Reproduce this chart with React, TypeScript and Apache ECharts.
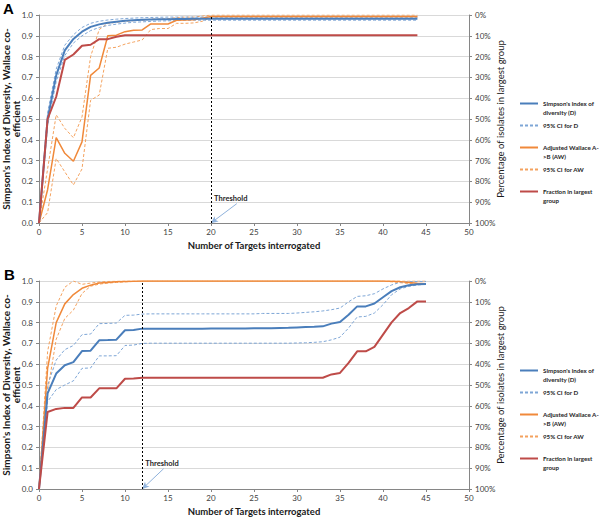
import React, { useEffect, useRef } from "react";
import * as echarts from "echarts";

// ---------- Data ----------
const targetsA = [0, 1, 2, 3, 4, 5, 6, 7, 8, 9, 10, 11, 12, 13, 14, 15, 16, 17, 18, 19, 20, 21, 22, 23, 24, 25, 26, 27, 28, 29, 30, 31, 32, 33, 34, 35, 36, 37, 38, 39, 40, 41, 42, 43, 44];
const targetsB = [0, 1, 2, 3, 4, 5, 6, 7, 8, 9, 10, 11, 12, 13, 14, 15, 16, 17, 18, 19, 20, 21, 22, 23, 24, 25, 26, 27, 28, 29, 30, 31, 32, 33, 34, 35, 36, 37, 38, 39, 40, 41, 42, 43, 44, 45];

// Panel A
const simpsonA = [0, 0.5, 0.71, 0.83, 0.885, 0.92, 0.943, 0.955, 0.963, 0.968, 0.972, 0.975, 0.977, 0.978, 0.979, 0.98, 0.981, 0.981, 0.982, 0.982, 0.982, 0.982, 0.982, 0.982, 0.982, 0.982, 0.982, 0.982, 0.982, 0.982, 0.982, 0.982, 0.982, 0.982, 0.982, 0.982, 0.982, 0.982, 0.982, 0.982, 0.982, 0.982, 0.982, 0.982, 0.982];
const simpsonUpperA = [0, 0.53, 0.74, 0.855, 0.905, 0.94, 0.96, 0.97, 0.976, 0.98, 0.983, 0.985, 0.987, 0.988, 0.989, 0.99, 0.99, 0.99, 0.99, 0.99, 0.99, 0.99, 0.99, 0.99, 0.99, 0.99, 0.99, 0.99, 0.99, 0.99, 0.99, 0.99, 0.99, 0.99, 0.99, 0.99, 0.99, 0.99, 0.99, 0.99, 0.99, 0.99, 0.99, 0.99, 0.99];
const simpsonLowerA = [0, 0.47, 0.68, 0.805, 0.865, 0.9, 0.925, 0.94, 0.95, 0.956, 0.961, 0.965, 0.967, 0.969, 0.971, 0.972, 0.973, 0.974, 0.975, 0.975, 0.975, 0.975, 0.975, 0.975, 0.975, 0.975, 0.975, 0.975, 0.975, 0.975, 0.975, 0.975, 0.975, 0.975, 0.975, 0.975, 0.975, 0.975, 0.975, 0.975, 0.975, 0.975, 0.975, 0.975, 0.975];
const wallaceA = [0, 0.16, 0.41, 0.335, 0.297, 0.39, 0.71, 0.745, 0.9, 0.903, 0.92, 0.927, 0.928, 0.957, 0.957, 0.957, 0.975, 0.976, 0.977, 0.985, 0.993, 0.993, 0.993, 0.993, 0.993, 0.993, 0.993, 0.993, 0.993, 0.993, 0.993, 0.993, 0.993, 0.993, 0.993, 0.993, 0.993, 0.993, 0.993, 0.993, 0.993, 0.993, 0.993, 0.993, 0.993];
const wallaceUpperA = [0, 0.26, 0.52, 0.455, 0.41, 0.51, 0.8, 0.93, 0.96, 0.965, 0.97, 0.973, 0.975, 0.98, 0.98, 0.982, 0.988, 0.99, 0.99, 0.995, 1, 1, 1, 1, 1, 1, 1, 1, 1, 1, 1, 1, 1, 1, 1, 1, 1, 1, 1, 1, 1, 1, 1, 1, 1];
const wallaceLowerA = [0, 0.05, 0.31, 0.246, 0.183, 0.26, 0.59, 0.615, 0.84, 0.845, 0.86, 0.87, 0.88, 0.93, 0.935, 0.935, 0.96, 0.96, 0.962, 0.97, 0.99, 0.99, 0.99, 0.99, 0.99, 0.99, 0.99, 0.99, 0.99, 0.99, 0.99, 0.99, 0.99, 0.99, 0.99, 0.99, 0.99, 0.99, 0.99, 0.99, 0.99, 0.99, 0.99, 0.99, 0.99];
const largestPctA = [100, 50, 39.3, 21.6, 19, 14.8, 14.3, 11.6, 11.6, 10.5, 9.7, 9.7, 9.7, 9.7, 9.7, 9.7, 9.7, 9.7, 9.7, 9.7, 9.7, 9.7, 9.7, 9.7, 9.7, 9.7, 9.7, 9.7, 9.7, 9.7, 9.7, 9.7, 9.7, 9.7, 9.7, 9.7, 9.7, 9.7, 9.7, 9.7, 9.7, 9.7, 9.7, 9.7, 9.7];

// Panel B
const simpsonB = [0, 0.46, 0.555, 0.595, 0.61, 0.663, 0.665, 0.715, 0.716, 0.718, 0.763, 0.764, 0.771, 0.771, 0.771, 0.771, 0.771, 0.771, 0.771, 0.771, 0.772, 0.772, 0.772, 0.772, 0.772, 0.773, 0.773, 0.773, 0.774, 0.775, 0.777, 0.779, 0.78, 0.782, 0.795, 0.803, 0.838, 0.878, 0.878, 0.892, 0.922, 0.951, 0.97, 0.98, 0.984, 0.985];
const simpsonUpperB = [0, 0.5, 0.62, 0.67, 0.69, 0.742, 0.745, 0.795, 0.796, 0.798, 0.835, 0.836, 0.841, 0.842, 0.842, 0.842, 0.842, 0.842, 0.842, 0.842, 0.842, 0.842, 0.842, 0.842, 0.842, 0.842, 0.844, 0.844, 0.844, 0.844, 0.846, 0.849, 0.852, 0.856, 0.862, 0.87, 0.9, 0.926, 0.929, 0.939, 0.962, 0.981, 0.994, 0.997, 0.998, 0.998];
const simpsonLowerB = [0, 0.42, 0.478, 0.5, 0.52, 0.58, 0.582, 0.64, 0.64, 0.641, 0.69, 0.692, 0.7, 0.701, 0.701, 0.701, 0.701, 0.701, 0.701, 0.701, 0.701, 0.701, 0.701, 0.701, 0.701, 0.701, 0.701, 0.701, 0.701, 0.701, 0.702, 0.703, 0.705, 0.708, 0.717, 0.73, 0.774, 0.827, 0.83, 0.846, 0.886, 0.934, 0.962, 0.974, 0.981, 0.984];
const wallaceB = [0, 0.58, 0.8, 0.89, 0.935, 0.965, 0.98, 0.99, 0.993, 0.996, 0.998, 0.999, 1, 1, 1, 1, 1, 1, 1, 1, 1, 1, 1, 1, 1, 1, 1, 1, 1, 1, 1, 1, 1, 1, 1, 1, 1, 1, 1, 1, 1, 0.999, 0.997, 0.993, 0.989, 0.987];
const wallaceUpperB = [0, 0.66, 0.88, 0.97, 1, 0.984, 0.99, 0.995, 0.998, 0.999, 1, 1, 1, 1, 1, 1, 1, 1, 1, 1, 1, 1, 1, 1, 1, 1, 1, 1, 1, 1, 1, 1, 1, 1, 1, 1, 1, 1, 1, 1, 1, 1, 1, 1, 1, 1];
const wallaceLowerB = [0, 0.47, 0.72, 0.82, 0.86, 0.94, 0.975, 0.985, 0.99, 0.993, 0.996, 0.998, 0.999, 1, 1, 1, 1, 1, 1, 1, 1, 1, 1, 1, 1, 1, 1, 1, 1, 1, 1, 1, 1, 1, 1, 1, 1, 1, 1, 1, 0.999, 0.996, 0.992, 0.988, 0.986, 0.985];
const largestPctB = [100, 63, 61.5, 61, 61, 56, 56, 51.6, 51.6, 51.6, 47, 46.9, 46.5, 46.5, 46.5, 46.5, 46.5, 46.5, 46.5, 46.5, 46.5, 46.5, 46.5, 46.5, 46.5, 46.5, 46.5, 46.5, 46.5, 46.5, 46.5, 46.5, 46.5, 46.5, 44.9, 44.2, 39.4, 33.8, 33.8, 31.7, 25.8, 19.9, 15.4, 13, 9.8, 9.8];

const thresholdA = 20;
const thresholdB = 12;

const NAME_D = "Simpson's index of diversity (D)";
const NAME_CID = "95% CI for D";
const NAME_AW = "Adjusted Wallace A->B (AW)";
const NAME_CIAW = "95% CI for AW";
const NAME_FR = "Fraction in largest group";
const legendNames = [NAME_D, NAME_CID, NAME_AW, NAME_CIAW, NAME_FR];
const legendText: Record<string, string> = {
  [NAME_D]: "\nSimpson's index of\ndiversity (D)",
  [NAME_CID]: "95% CI for D",
  [NAME_AW]: "\nAdjusted Wallace A-\n>B (AW)",
  [NAME_CIAW]: "95% CI for AW",
  [NAME_FR]: "\nFraction in largest\ngroup",
};

// ---------- Styles ----------
const FONT = "Lato, 'Liberation Sans', sans-serif";
const BLUE = "#4A7EBB";
const BLUE_LIGHT = "#7EA6D6";
const ORANGE = "#F0893A";
const ORANGE_LIGHT = "#F4A25E";
const RED = "#BE4B48";
const AXIS_GRAY = "#868686";
const GRID_GRAY = "#D9D9D9";
const LABEL = "#404040";

function pairs(xs: number[], ys: number[]) {
  return xs.map((x, i) => [x, ys[i]]);
}

function panelSeries(
  idx: number,
  xs: number[],
  d: number[],
  dU: number[],
  dL: number[],
  aw: number[],
  awU: number[],
  awL: number[],
  pct: number[],
  threshold: number,
  labelAt: number[],
  arrowFrom: number[]
) {
  const yl = idx * 2;
  const yr = idx * 2 + 1;
  const base = { type: "line", xAxisIndex: idx, symbol: "none", showSymbol: false, silent: true };
  const dash = { width: 1, type: [3, 2] };
  return [
    { ...base, name: NAME_CIAW, yAxisIndex: yl, data: pairs(xs, awU), lineStyle: { ...dash, color: ORANGE_LIGHT }, itemStyle: { color: ORANGE_LIGHT } },
    { ...base, name: NAME_CIAW, yAxisIndex: yl, data: pairs(xs, awL), lineStyle: { ...dash, color: ORANGE_LIGHT }, itemStyle: { color: ORANGE_LIGHT } },
    { ...base, name: NAME_CID, yAxisIndex: yl, data: pairs(xs, dU), lineStyle: { ...dash, color: BLUE_LIGHT }, itemStyle: { color: BLUE_LIGHT } },
    { ...base, name: NAME_CID, yAxisIndex: yl, data: pairs(xs, dL), lineStyle: { ...dash, color: BLUE_LIGHT }, itemStyle: { color: BLUE_LIGHT } },
    {
      ...base,
      name: NAME_AW,
      yAxisIndex: yl,
      data: pairs(xs, aw),
      lineStyle: { width: 1.5, color: ORANGE },
      itemStyle: { color: ORANGE },
      markLine: {
        silent: true,
        animation: false,
        label: { show: false },
        lineStyle: { color: "#8FB2DC", width: 1, type: "solid" },
        data: [[{ coord: arrowFrom, symbol: "none" }, { coord: [threshold, 0], symbol: "arrow", symbolSize: [5, 7] }]],
      },
      markPoint: {
        silent: true,
        animation: false,
        symbol: "rect",
        symbolSize: 1,
        itemStyle: { color: "rgba(0,0,0,0)" },
        label: { show: true, position: "inside", formatter: "Threshold", fontFamily: FONT, fontSize: 7.5, fontWeight: "bold", color: "#262626" },
        data: [{ coord: labelAt }],
      },
    },
    {
      ...base,
      name: NAME_D,
      yAxisIndex: yl,
      data: pairs(xs, d),
      lineStyle: { width: 2, color: BLUE },
      itemStyle: { color: BLUE },
      markLine: {
        silent: true,
        animation: false,
        symbol: ["none", "none"],
        label: { show: false },
        lineStyle: { color: "#000", width: 1, type: [2, 2] },
        data: [[{ coord: [threshold, 0] }, { coord: [threshold, 1] }]],
      },
    },
    { ...base, name: NAME_FR, yAxisIndex: yr, data: pairs(xs, pct), lineStyle: { width: 2, color: RED }, itemStyle: { color: RED } },
  ];
}

const gridTops = [15, 281];
const gridHeight = 208;

function xAxis(idx: number) {
  return {
    type: "value",
    gridIndex: idx,
    min: 0,
    max: 50,
    interval: 5,
    axisLine: { show: true, lineStyle: { color: AXIS_GRAY } },
    axisTick: { show: true, length: 3, lineStyle: { color: AXIS_GRAY } },
    axisLabel: { fontFamily: FONT, fontSize: 8, color: LABEL, margin: 5 },
    splitLine: { show: false },
    name: "Number of Targets interrogated",
    nameLocation: "middle",
    nameGap: 17,
    nameMoveOverlap: false,
    nameTextStyle: { fontFamily: FONT, fontSize: 9.5, fontWeight: "bold", color: "#1a1a1a" },
  };
}

function yLeft(idx: number) {
  return {
    type: "value",
    gridIndex: idx,
    position: "left",
    min: 0,
    max: 1,
    interval: 0.1,
    axisLine: { show: true, lineStyle: { color: AXIS_GRAY } },
    axisTick: { show: true, length: 3, lineStyle: { color: AXIS_GRAY } },
    axisLabel: { fontFamily: FONT, fontSize: 8, color: LABEL, margin: 6, formatter: (v: number) => v.toFixed(1) },
    splitLine: { show: true, lineStyle: { color: GRID_GRAY, width: 1 } },
    name: "Simpson's Index of Diversity, Wallace co-\nefficient",
    nameLocation: "middle",
    nameRotate: 90,
    nameGap: 18,
    nameMoveOverlap: false,
    nameTextStyle: { fontFamily: FONT, fontSize: 10, fontWeight: "bold", color: "#1a1a1a", lineHeight: 10, align: "center" },
  };
}

function yRight(idx: number) {
  return {
    type: "value",
    gridIndex: idx,
    position: "right",
    inverse: true,
    min: 0,
    max: 100,
    interval: 10,
    axisLine: { show: true, lineStyle: { color: AXIS_GRAY } },
    axisTick: { show: true, length: 3, lineStyle: { color: AXIS_GRAY } },
    axisLabel: { fontFamily: FONT, fontSize: 8, color: LABEL, margin: 6, formatter: (v: number) => v + "%" },
    splitLine: { show: false },
    name: "Percentage of isolates in largest group",
    nameLocation: "middle",
    nameRotate: 90,
    nameGap: 26,
    nameMoveOverlap: false,
    nameTextStyle: { fontFamily: FONT, fontSize: 9.5, color: "#1a1a1a" },
  };
}

function legend(top: number) {
  return {
    orient: "vertical",
    left: 519,
    top,
    padding: 0,
    itemGap: 4,
    itemWidth: 18,
    itemHeight: 9,
    selectedMode: false,
    data: legendNames,
    itemStyle: { opacity: 0 },
    formatter: (n: string) => legendText[n] || n,
    textStyle: { fontFamily: FONT, fontSize: 6.2, fontWeight: "bold", color: "#262626", lineHeight: 9 },
  };
}

export default function App() {
  const ref = useRef<HTMLDivElement>(null);
  useEffect(() => {
    if (!ref.current) return;
    const chart = echarts.init(ref.current, undefined, { renderer: "svg" });
    chart.setOption({
      animation: false,
      backgroundColor: "#ffffff",
      textStyle: { fontFamily: FONT },
      grid: gridTops.map((t) => ({ left: 39, width: 430, top: t, height: gridHeight, containLabel: false, outerBoundsMode: "none" })),
      xAxis: [xAxis(0), xAxis(1)],
      yAxis: [yLeft(0), yRight(0), yLeft(1), yRight(1)],
      legend: [legend(90), legend(357)],
      graphic: [
        { type: "text", left: 3, top: 1, style: { text: "A", font: "bold 15px 'Liberation Sans', Arial, sans-serif", fill: "#000" } },
        { type: "text", left: 4, top: 267, style: { text: "B", font: "bold 15px 'Liberation Sans', Arial, sans-serif", fill: "#000" } },
      ],
      series: [
        ...panelSeries(0, targetsA, simpsonA, simpsonUpperA, simpsonLowerA, wallaceA, wallaceUpperA, wallaceLowerA, largestPctA, thresholdA, [22.3, 0.118], [23, 0.093]),
        ...panelSeries(1, targetsB, simpsonB, simpsonUpperB, simpsonLowerB, wallaceB, wallaceUpperB, wallaceLowerB, largestPctB, thresholdB, [14.3, 0.122], [14.5, 0.098]),
      ],
    });
    return () => chart.dispose();
  }, []);
  return <div ref={ref} style={{ position: "absolute", left: 0, top: 0, width: 600, height: 517 }} />;
}
